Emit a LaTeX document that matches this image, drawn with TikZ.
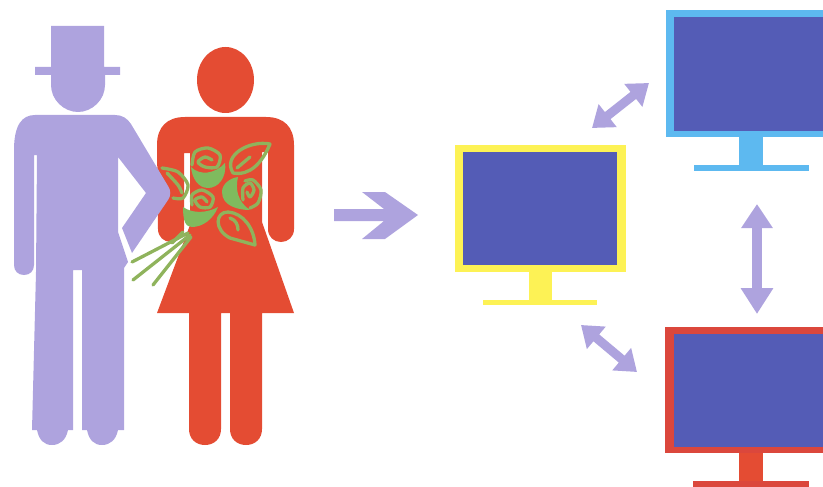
\documentclass[tikz,border=0pt]{standalone}
\usepackage{amsmath}
\usepackage{amssymb}
\usetikzlibrary{arrows.meta}

\definecolor{lilac}{HTML}{AEA3DE}
\definecolor{brideRed}{HTML}{E44C33}
\definecolor{roseGreen}{HTML}{7FBB5E}
\definecolor{stemGreen}{HTML}{8FB35C}
\definecolor{screenBlue}{HTML}{545CB6}
\definecolor{skyBlue}{HTML}{5DB9F0}
\definecolor{lemon}{HTML}{FDF255}
\definecolor{frameRed}{HTML}{DB473C}

\tikzset{
    petal/.style={fill=roseGreen},
    swirl/.style={draw=stemGreen, line width=3.3pt, line cap=round, line join=round},
    twoway/.style={draw=lilac, line width=#1}
}

\begin{document}
\begin{tikzpicture}[x=1pt,y=-1pt]
    \useasboundingbox (0,0) rectangle (823,487);
    \clip (0,0) rectangle (823,487);

    \fill [brideRed] (225.5,80) ellipse [x radius=28.5, y radius=33];
    \fill [brideRed] (157,145) .. controls (157,127) and (167,117) .. (185,117) -- (266,117)
        .. controls (284,117) and (294,127) .. (294,145) -- (294,229)
        .. controls (294,237) and (288,242) .. (281,242) .. controls (274,242) and (268,237) .. (268,229)
        -- (268,152) -- (262,152) -- (262,222) -- (294,313) -- (262,313) -- (262,429)
        .. controls (262,439) and (255,445) .. (246,445) .. controls (237,445) and (230,439) .. (230,429)
        -- (230,313) -- (221,313) -- (221,429)
        .. controls (221,439) and (214,445) .. (205,445) .. controls (196,445) and (189,439) .. (189,429)
        -- (189,313) -- (157,313) -- (190,225) -- (190,153) -- (184,153) -- (184,229)
        .. controls (184,237) and (178,242) .. (171,242) .. controls (164,242) and (158,237) .. (158,229)
        -- cycle;

    \draw [swirl] plot [smooth] coordinates {(162,168) (178,172) (188,185) (183,198) (173,198)};
    \draw [swirl] plot [smooth] coordinates {(167,173) (178,185) (182,193)};

    \fill [lilac] (51,26) -- (104,26) -- (104,67) -- (120,67) -- (120,75) -- (105,75) -- (105,85)
        .. controls (105,100) and (92,112) .. (78,112) .. controls (64,112) and (51,100) .. (51,85)
        -- (51,75) -- (35,75) -- (35,67) -- (51,67) -- cycle;
    \fill [lilac] (14,150) .. controls (14,125) and (22,115) .. (35,115) -- (115,115)
        .. controls (122,115) and (127,118) .. (131,124) -- (168,186)
        .. controls (171,190) and (171,196) .. (168,200) -- (132,253) -- (122,228) -- (146,193) -- (118,157)
        -- (118,232) -- (128,262) -- (124,268) -- (124,430) -- (118,430)
        .. controls (116,440) and (110,445) .. (102,445) .. controls (94,445) and (89,440) .. (87,430)
        -- (82,430) -- (82,270) -- (73,270) -- (73,430) -- (68,430)
        .. controls (66,440) and (60,445) .. (52,445) .. controls (44,445) and (39,440) .. (37,430)
        -- (32,430) -- (36,272) -- (37,155) -- (34,155) -- (34,265)
        .. controls (34,271) and (30,275) .. (24,275) .. controls (18,275) and (14,271) .. (14,265) -- cycle;

    \draw [swirl] (188,233) -- (132,262);
    \draw [swirl] (190,235) -- (133,280);
    \draw [swirl] (191,237) -- (153,285);
    \draw [swirl] (183,232) -- (172,243);

    \fill [petal] (191,167) .. controls (200,176) and (215,174) .. (225,163)
        .. controls (227,178) and (218,188) .. (208,188) .. controls (198,188) and (192,178) .. (191,167) -- cycle;
    \fill [petal] (238,177) .. controls (235,190) and (238,202) .. (250,210)
        .. controls (238,210) and (222,206) .. (222,192) .. controls (222,184) and (230,178) .. (238,177) -- cycle;
    \fill [petal] (183,207) .. controls (193,214) and (207,213) .. (218,207)
        .. controls (213,220) and (202,227) .. (192,227) .. controls (186,227) and (183,222) .. (183,207) -- cycle;

    \draw [swirl] plot [smooth] coordinates {(192,165) (195,152) (208,148) (220,155) (217,167) (205,167) (198,162) (205,157) (212,160)};
    \draw [swirl] plot [smooth] coordinates {(245,181) (253,180) (261,190) (258,203) (250,208)};
    \draw [swirl] plot [smooth] coordinates {(243,200) (243,188) (250,183) (254,190) (250,197) (247,192)};
    \draw [swirl] plot [smooth] coordinates {(192,205) (192,195) (202,190) (213,197) (210,207) (200,207) (195,200) (202,197) (207,202)};

    \draw [swirl] (270,144) .. controls (250,140) and (222,155) .. (233,173) .. controls (250,176) and (262,163) .. (270,144) -- cycle;
    \draw [swirl] (237,168) -- (250,157);
    \draw [swirl] (255,245) .. controls (254,228) and (243,213) .. (228,212) .. controls (215,212) and (214,230) .. (230,238) -- cycle;
    \draw [swirl] (230,218) .. controls (236,220) and (238,225) .. (238,230);

    \fill [lilac] (334,209) -- (384,209) -- (362,192) -- (385,192) -- (418,215) -- (385,239) -- (362,239) -- (384,221) -- (334,221) -- cycle;

    \fill [lemon] (455,145) rectangle (626,272);
    \fill [lemon] (529,272) rectangle (552,301);
    \fill [lemon] (483,300) rectangle (597,305);
    \fill [screenBlue] (463,152) rectangle (617,265);

    \fill [skyBlue] (666,10) rectangle (823,137);
    \fill [skyBlue] (739,137) rectangle (763,166);
    \fill [skyBlue] (694,165) rectangle (809,171);
    \fill [screenBlue] (674,17) rectangle (823,131);

    \fill [frameRed] (665,327) rectangle (823,453);
    \fill [brideRed] (739,453) rectangle (763,482);
    \fill [frameRed] (693,481) rectangle (809,487);
    \fill [screenBlue] (674,334) rectangle (823,447);

    \coordinate (upA) at (592,128);
    \coordinate (upB) at (649,83);
    \coordinate (sideA) at (757,204);
    \coordinate (sideB) at (757,314);
    \coordinate (lowA) at (581,325);
    \coordinate (lowB) at (637,372);
    \draw [twoway=9pt, {Triangle[length=20pt,width=28pt]}-{Triangle[length=20pt,width=28pt]}] (upA) -- (upB);
    \draw [twoway=10pt, {Triangle[length=24pt,width=30pt]}-{Triangle[length=26pt,width=31pt]}] (sideA) -- (sideB);
    \draw [twoway=9pt, {Triangle[length=20pt,width=28pt]}-{Triangle[length=20pt,width=28pt]}] (lowA) -- (lowB);
\end{tikzpicture}
\end{document}
